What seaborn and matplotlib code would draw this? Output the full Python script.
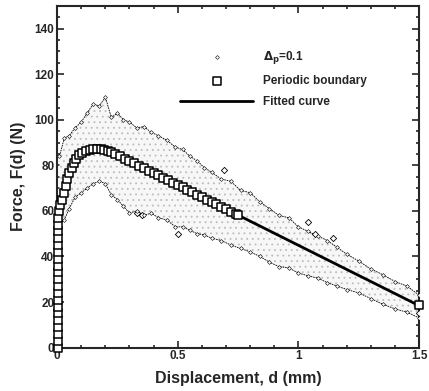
import numpy as np
import pandas as pd
import matplotlib
matplotlib.use("Agg")
from matplotlib import pyplot as plt
from matplotlib.ticker import MultipleLocator, FixedLocator, FixedFormatter
import seaborn as sns

# Fitted curve
fit_x = [0, 0.002, 0.004, 0.006, 0.01, 0.02, 0.03, 0.04, 0.05, 0.06, 0.08, 0.1, 0.12, 0.14, 0.16,
         0.18, 0.2, 0.22, 0.26, 0.3, 0.4, 0.5, 0.6, 0.7, 0.8, 0.9, 1.0, 1.1, 1.2, 1.3, 1.4, 1.5]
fit_y = [0, 20, 38, 52, 59, 65, 70, 73.5, 76.5, 79, 83, 85, 86.3, 86.9, 87.2,
         87.1, 86.6, 85.9, 84.1, 82, 76.7, 71.4, 66.1, 60.8, 55.5, 50.2, 44.9, 39.6, 34.3, 29, 23.7, 18.4]

# Periodic boundary results
pb_x = [0.002, 0.005, 0.002, 0.005, 0.002, 0.005, 0.002, 0.005, 0.002, 0.005,
        0.002, 0.005, 0.002, 0.005, 0.002, 0.005, 0.002, 0.005, 0.002, 0.005,
        0.008, 0.012, 0.02, 0.028, 0.035, 0.042, 0.05, 0.06, 0.07, 0.08, 0.092, 0.105,
        0.12, 0.135, 0.15, 0.165, 0.18, 0.195, 0.21, 0.225, 0.24, 0.26, 0.28, 0.3,
        0.32, 0.34, 0.36, 0.38, 0.4, 0.42, 0.44, 0.46, 0.48, 0.5, 0.52, 0.54, 0.56,
        0.58, 0.6, 0.62, 0.64, 0.66, 0.68, 0.7, 0.72, 0.74, 0.75, 1.5]
pb_y = [0, 3, 6, 9, 12, 15, 18, 21, 24, 27,
        30, 33, 36, 39, 42, 45, 48, 51, 54, 57,
        60, 62.5, 65, 68, 71, 74, 76.5, 79, 81, 83, 84.5, 85.5,
        86.3, 86.8, 87.1, 87.2, 87.1, 86.8, 86.3, 85.7, 85.1, 84.1, 83, 82,
        80.9, 79.9, 78.8, 77.7, 76.7, 75.6, 74.5, 73.5, 72.4, 71.4, 70.3, 69.2, 68.2,
        67.1, 66.1, 65, 63.9, 62.9, 61.8, 60.8, 59.7, 58.6, 58.1, 18.5]

# Delta_p = 0.1 scatter cloud: envelope
cloud_x = [0.01, 0.03, 0.05, 0.075, 0.1, 0.125, 0.15, 0.175, 0.2, 0.225, 0.25, 0.275, 0.3, 0.33,
           0.36, 0.39, 0.42, 0.455, 0.49, 0.52, 0.55, 0.58, 0.61, 0.64, 0.68, 0.72, 0.76, 0.8,
           0.84, 0.88, 0.92, 0.96, 1.0, 1.04, 1.08, 1.12, 1.16, 1.2, 1.25, 1.3, 1.35, 1.4, 1.45, 1.5]
cloud_upper = [84, 92, 93, 96.5, 99, 103, 107, 106, 110, 101, 103, 100, 99, 96.5,
               97, 94.5, 93, 91, 88, 87, 84, 82, 79, 77, 74, 73, 69, 68,
               64, 61, 58, 57, 53, 51, 49, 47, 44, 41, 38, 34.5, 32, 29, 27, 23]
cloud_lower = [55, 56, 61, 66, 68, 70, 72, 73, 72, 67, 65, 62, 59, 60,
               58, 59, 57, 56, 53, 53, 51.5, 50, 49.5, 48, 47, 45, 43.5, 42,
               40, 37.5, 35.5, 35, 32.7, 31.5, 30.5, 28.5, 27, 25.5, 24, 21.5, 19, 17, 15.5, 13]
# isolated points outside the envelope
out_x = [0.33, 0.35, 0.5, 0.69, 1.04, 1.07, 1.145, 1.5]
out_y = [59, 58, 50, 78, 55, 50, 48, 15]

sns.set_style("ticks")
plt.rcParams["font.family"] = ["Liberation Sans", "DejaVu Sans"]
plt.rcParams["font.weight"] = "bold"
plt.rcParams["hatch.linewidth"] = 0.6

fig = plt.figure(figsize=(4.29, 3.91), dpi=100)
ax = fig.add_axes([0.133, 0.111, 0.844, 0.874])

# cloud of Delta_p = 0.1 samples
ax.fill_between(cloud_x, cloud_lower, cloud_upper, facecolor="#f7f7f7", edgecolor="#bdbdbd",
                hatch="...", linewidth=0)
ax.plot(cloud_x, cloud_upper, color="black", lw=0.6, ls=(0, (2, 1)))
ax.plot(cloud_x, cloud_lower, color="black", lw=0.6, ls=(0, (2, 1)))
sns.scatterplot(x=out_x, y=out_y, marker="D", s=10, facecolor="white", edgecolor="black",
                linewidth=0.6, ax=ax, zorder=3)
sns.scatterplot(x=cloud_x, y=cloud_upper, marker="D", s=4, facecolor="white", edgecolor="black",
                linewidth=0.4, ax=ax, zorder=3, label=r"$\mathbf{\Delta_p}$=0.1")
sns.scatterplot(x=cloud_x, y=cloud_lower, marker="D", s=4, facecolor="white", edgecolor="black",
                linewidth=0.4, ax=ax, zorder=3)

sns.scatterplot(x=pb_x, y=pb_y, marker="s", s=28, facecolor="white", edgecolor="black",
                linewidth=1.1, ax=ax, zorder=5, clip_on=False, label="Periodic boundary")
sns.lineplot(x=fit_x, y=fit_y, color="black", lw=2, ax=ax, zorder=4, label="Fitted curve",
             sort=False)

ax.set_xlim(0, 1.5)
ax.set_ylim(0, 150)
ax.xaxis.set_major_locator(FixedLocator([0, 0.5, 1, 1.5]))
ax.xaxis.set_major_formatter(FixedFormatter(["0", "0.5", "1", "1.5"]))
ax.xaxis.set_minor_locator(MultipleLocator(0.1))
ax.yaxis.set_major_locator(MultipleLocator(20))
ax.yaxis.set_minor_locator(MultipleLocator(5))
ax.tick_params(which="both", direction="in", top=True, right=True, labelsize=8.5, width=1.2, pad=2)
ax.tick_params(which="major", length=5)
ax.tick_params(which="minor", length=2.5)
for sp in ax.spines.values():
    sp.set_linewidth(1.5)
    sp.set_visible(True)

ax.set_xlabel("Displacement, d (mm)", fontsize=11.5, fontweight="bold", labelpad=6)
ax.set_ylabel("Force, F(d) (N)", fontsize=11.5, fontweight="bold", labelpad=6)

handles, labels = ax.get_legend_handles_labels()
ax.legend(handles, labels, loc="upper left", bbox_to_anchor=(0.31, 0.905), frameon=False,
          handlelength=6.2, labelspacing=0.75, handletextpad=0.8,
          prop={"weight": "bold", "size": 8.5})

fig.savefig("out.png", dpi=100)
